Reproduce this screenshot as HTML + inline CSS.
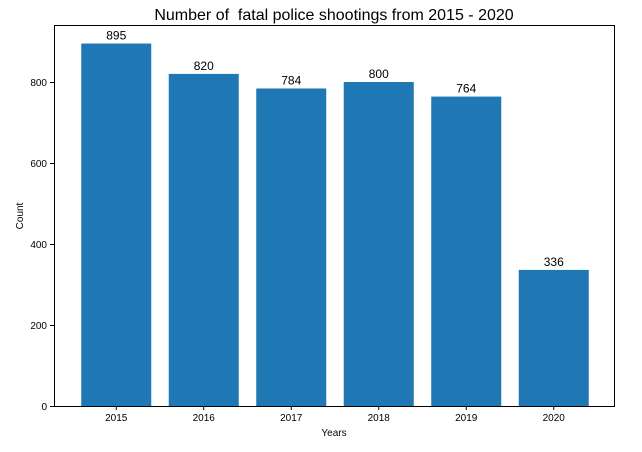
<!DOCTYPE html>
<html><head><meta charset="utf-8"><style>
body{margin:0;background:#fff;}
text{font-family:"Liberation Sans","DejaVu Sans",sans-serif;fill:#000;}
</style></head><body>
<svg id="chart" width="642" height="447" xmlns="http://www.w3.org/2000/svg">
<rect width="642" height="447" fill="#fff"/>
<text x="334" y="20" font-size="16" text-anchor="middle" style="white-space:pre" xml:space="preserve">Number of  fatal police shootings from 2015 - 2020</text>
<g id="plot"></g>
<rect x="54.5" y="25.5" width="560" height="381" fill="none" stroke="#000" stroke-width="1"/>
<text x="334" y="436" font-size="10" text-anchor="middle">Years</text>
<text x="23" y="216" font-size="10" text-anchor="middle" transform="rotate(-90 23 216)">Count</text>
</svg>
<script>
const categories=["2015","2016","2017","2018","2019","2020"];
const counts=[895,820,784,800,764,336];
const yTicks=[0,200,400,600,800];
const L=54,R=614,T=25,B=406;
const step=(R-L)/6.4;
const x=i=>L+1+(i+0.7)*step;
const y=v=>B-v*(B-82)/800;
const g=document.getElementById('plot');
const NS="http://www.w3.org/2000/svg";
function mk(t,a){const e=document.createElementNS(NS,t);for(const k in a)e.setAttribute(k,a[k]);g.appendChild(e);return e;}
categories.forEach((c,i)=>{
  const w=step*0.8;
  const b=mk('rect',{x:x(i)-w/2,y:y(counts[i]),width:w,height:B-y(counts[i]),fill:'#1f77b4'});
  
  
  const lb=mk('text',{x:x(i),y:y(counts[i])-4,'font-size':12,'text-anchor':'middle'});
  lb.textContent=counts[i];
  
  
  mk('line',{x1:x(i),x2:x(i),y1:B,y2:B+4,stroke:'#000'});
  const tl=mk('text',{x:x(i),y:B+15,'font-size':10,'text-anchor':'middle'});
  tl.textContent=c;
  
  
});
yTicks.forEach(v=>{
  mk('line',{x1:L-4,x2:L,y1:y(v)+0.5,y2:y(v)+0.5,stroke:'#000'});
  const t=mk('text',{x:L-7,y:y(v)+4,'font-size':10,'text-anchor':'end'});
  t.textContent=v;
  
  
});
</script>
</body></html>
